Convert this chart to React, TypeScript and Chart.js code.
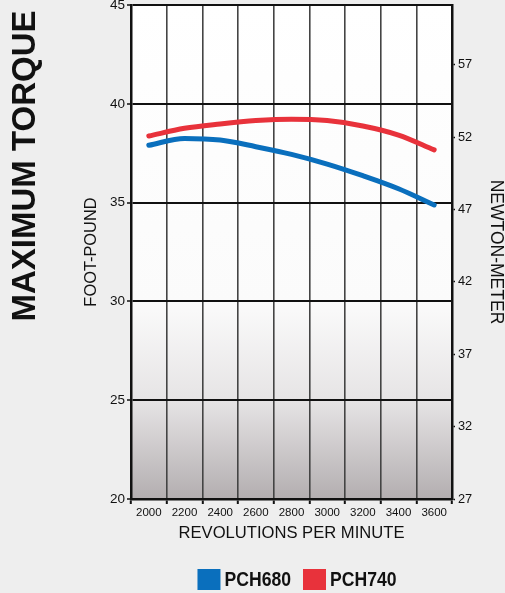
import React, { useEffect, useRef } from "react";
import { Chart, registerables } from "chart.js";

Chart.register(...registerables);

const rpmLabels = ["2000", "2200", "2400", "2600", "2800", "3000", "3200", "3400", "3600"];
const pch680 = [37.9, 38.25, 38.17, 37.83, 37.44, 36.95, 36.36, 35.7, 34.88];
const pch740 = [38.37, 38.76, 38.98, 39.15, 39.22, 39.15, 38.88, 38.42, 37.67];
const seriesNames = ["PCH680", "PCH740"];
const seriesColors = ["#0a6fbd", "#e8323b"];
const newtonMeterTicks = [27, 32, 37, 42, 47, 52, 57];

const FONT = "'Liberation Sans', Arial, Helvetica, sans-serif";

const backgroundPlugin = {
  id: "plotBg",
  beforeDraw(chart: any) {
    const { ctx, chartArea } = chart;
    const { left, top, right, bottom } = chartArea;
    ctx.save();
    ctx.fillStyle = "#eeeeee";
    ctx.fillRect(0, 0, chart.width, chart.height);
    const g = ctx.createLinearGradient(0, top, 0, bottom);
    g.addColorStop(0, "#ffffff");
    g.addColorStop(0.6, "#fbfbfb");
    g.addColorStop(0.8, "#e6e4e5");
    g.addColorStop(1, "#b3aeb0");
    ctx.fillStyle = g;
    ctx.fillRect(left, top, right - left, bottom - top);
    ctx.restore();
  },
};

const decorPlugin = {
  id: "decor",
  afterDraw(chart: any) {
    const { ctx } = chart;
    ctx.save();
    ctx.translate(26, 166);
    ctx.rotate(-Math.PI / 2);
    ctx.font = `bold 33px ${FONT}`;
    ctx.fillStyle = "#111111";
    ctx.textAlign = "center";
    ctx.textBaseline = "middle";
    ctx.fillText("MAXIMUM TORQUE", 0, 0);
    ctx.restore();

    // Legend
    ctx.save();
    ctx.font = `bold 20px ${FONT}`;
    const squeeze = 0.88;
    const boxW = 23;
    const boxH = 21;
    const gap = 4;
    const spacing = 12;
    const items = chart.data.datasets.map((d: any) => {
      const tw = ctx.measureText(d.label).width * squeeze;
      return { label: d.label, color: d.borderColor, tw, w: boxW + gap + tw };
    });
    const total = items.reduce((s: number, it: any) => s + it.w, 0) + spacing * (items.length - 1);
    let x = 297 - total / 2;
    const y = 569;
    for (const it of items) {
      ctx.fillStyle = it.color;
      ctx.fillRect(x, y, boxW, boxH);
      ctx.save();
      ctx.translate(x + boxW + gap, y + boxH / 2 + 0.5);
      ctx.scale(squeeze, 1);
      ctx.fillStyle = "#111111";
      ctx.textAlign = "left";
      ctx.textBaseline = "middle";
      ctx.fillText(it.label, 0, 0);
      ctx.restore();
      x += it.w + spacing;
    }
    ctx.restore();
  },
};

export default function App() {
  const canvasRef = useRef<HTMLCanvasElement | null>(null);

  useEffect(() => {
    document.documentElement.style.overflow = "hidden";
    document.body.style.overflow = "hidden";
    const canvas = canvasRef.current;
    if (!canvas) return;
    const chart = new Chart(canvas, {
      type: "line",
      data: {
        labels: rpmLabels,
        datasets: [
          {
            label: seriesNames[0],
            data: pch680,
            borderColor: seriesColors[0],
            backgroundColor: seriesColors[0],
            borderWidth: 5,
            pointRadius: 0,
            borderCapStyle: "round",
            cubicInterpolationMode: "monotone",
            yAxisID: "y",
          },
          {
            label: seriesNames[1],
            data: pch740,
            borderColor: seriesColors[1],
            backgroundColor: seriesColors[1],
            borderWidth: 5,
            pointRadius: 0,
            borderCapStyle: "round",
            cubicInterpolationMode: "monotone",
            yAxisID: "y",
          },
        ],
      },
      options: {
        responsive: false,
        animation: false,
        events: [],
        layout: { padding: { left: 52, right: 0, top: 5, bottom: 44 } },
        plugins: {
          legend: { display: false },
          tooltip: { enabled: false },
          title: { display: false },
        },
        scales: {
          x: {
            type: "category",
            offset: true,
            grid: {
              offset: true,
              color: "#444444",
              lineWidth: 1.6,
              tickLength: 5,
              tickColor: "#111111",
              tickWidth: 2,
            },
            border: { display: true, color: "#111111", width: 2.5 },
            ticks: {
              color: "#111111",
              padding: 2,
              maxRotation: 0,
              autoSkip: false,
              font: { family: FONT, size: 11.5 },
            },
            title: {
              display: true,
              text: "REVOLUTIONS PER MINUTE",
              color: "#111111",
              font: { family: FONT, size: 16.6, lineHeight: 1 },
              padding: { top: 0, bottom: 7.75 },
            },
            afterFit(scale: any) {
              scale.height = 50;
              scale.paddingLeft = 0;
              scale.paddingRight = 0;
            },
          },
          y: {
            type: "linear",
            position: "left",
            min: 20,
            max: 45,
            ticks: {
              stepSize: 5,
              color: "#111111",
              padding: 2,
              font: { family: FONT, size: 13.5 },
            },
            grid: {
              color: "#111111",
              lineWidth: 2,
              tickLength: 4,
              tickColor: "#111111",
              tickWidth: 1.5,
            },
            border: { display: true, color: "#111111", width: 2.5 },
            title: {
              display: true,
              text: "FOOT-POUND",
              color: "#111111",
              font: { family: FONT, size: 16.4, lineHeight: 1 },
              padding: { top: 31.4, bottom: 0 },
            },
            afterFit(scale: any) {
              scale.width = 79;
              scale.paddingTop = 0;
              scale.paddingBottom = 0;
            },
          },
          y1: {
            type: "linear",
            position: "right",
            min: 27,
            max: 61.14,
            afterBuildTicks(scale: any) {
              scale.ticks = newtonMeterTicks.map((v) => ({ value: v }));
            },
            ticks: {
              color: "#111111",
              padding: 3,
              font: { family: FONT, size: 12.8 },
            },
            grid: {
              drawOnChartArea: false,
              tickLength: 3,
              tickColor: "#111111",
              tickWidth: 1.5,
            },
            border: { display: true, color: "#111111", width: 2.5 },
            title: {
              display: true,
              text: "NEWTON-METER",
              color: "#111111",
              font: { family: FONT, size: 17.5, lineHeight: 1 },
              padding: { top: 0.5, bottom: 0 },
            },
            afterFit(scale: any) {
              scale.width = 53;
              scale.paddingTop = 0;
              scale.paddingBottom = 0;
            },
          },
        },
      },
      plugins: [backgroundPlugin, decorPlugin],
    } as any);
    return () => chart.destroy();
  }, []);

  return (
    <div
      style={{
        position: "absolute",
        left: 0,
        top: 0,
        width: 505,
        height: 593,
        background: "#eeeeee",
        overflow: "hidden",
      }}
    >
      <canvas ref={canvasRef} width={505} height={593} style={{ display: "block" }} />
    </div>
  );
}
